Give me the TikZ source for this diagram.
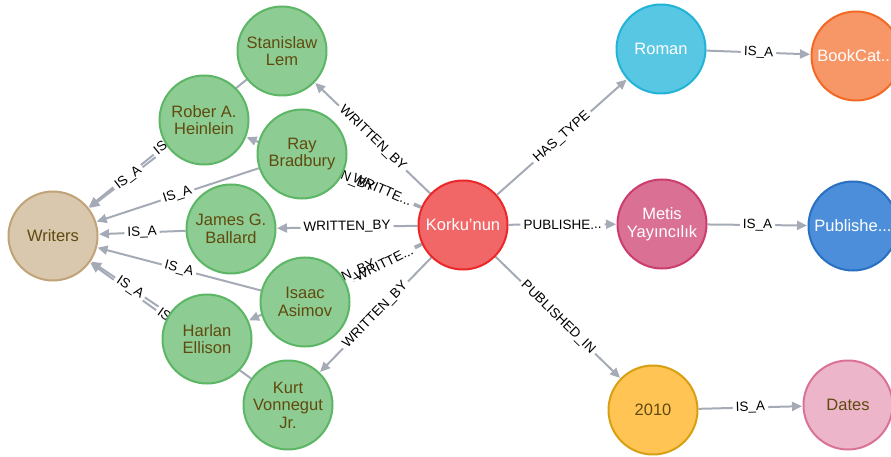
\documentclass[tikz,border=0pt]{standalone}
\usepackage{fontspec}
\setmainfont{Liberation Sans}
\usepackage{tikz}
\usetikzlibrary{arrows.meta}
\pgfdeclarelayer{bg}
\pgfsetlayers{bg,main}

\definecolor{edgegray}{HTML}{A5ABB6}
\definecolor{darktext}{HTML}{604A0E}
\definecolor{grnfill}{HTML}{8DCC93}
\definecolor{grndraw}{HTML}{5DB665}
\definecolor{tanfill}{HTML}{D9C8AE}
\definecolor{tandraw}{HTML}{C0A378}
\definecolor{redfill}{HTML}{F16667}
\definecolor{reddraw}{HTML}{EB2728}
\definecolor{cyanfill}{HTML}{57C7E3}
\definecolor{cyandraw}{HTML}{23B3D7}
\definecolor{orgfill}{HTML}{F79767}
\definecolor{orgdraw}{HTML}{F36924}
\definecolor{magfill}{HTML}{DA7194}
\definecolor{magdraw}{HTML}{CC3C6C}
\definecolor{bluefill}{HTML}{4C8EDA}
\definecolor{bluedraw}{HTML}{2870C2}
\definecolor{yelfill}{HTML}{FFC454}
\definecolor{yeldraw}{HTML}{D7A013}
\definecolor{pinkfill}{HTML}{ECB5C9}
\definecolor{pinkdraw}{HTML}{DA7298}

\tikzset{
  ent/.style={circle, minimum size=89, inner sep=0, line width=2,
    align=center, font=\fontsize{16.5}{17.5}\selectfont},
  writer/.style={ent, fill=grnfill, draw=grndraw, text=darktext},
  rel/.style={draw=edgegray, line width=2,
    -{Triangle[length=10pt,width=9pt]}, shorten >=0.5pt},
  lblfont/.style={font=\fontsize{13.5}{15}\selectfont},
  gapbox/.style={lblfont, fill=white, inner xsep=3, inner ysep=1,
    midway, sloped},
  lbl/.style={lblfont, text=black, inner xsep=3, inner ysep=1,
    midway, sloped}
}

\begin{document}
\begin{tikzpicture}[x=1pt, y=-1pt]
    \useasboundingbox (0,0) rectangle (891,457);
    % entities
    \node[ent, fill=tanfill, draw=tandraw, text=darktext] (writers) at (53,236) {Writers};
    \node[writer] (lem) at (282,51) {Stanislaw\\Lem};
    \node[writer] (heinlein) at (204,120) {Rober A.\\Heinlein};
    \node[writer] (bradbury) at (302,154) {Ray\\Bradbury};
    \node[writer] (ballard) at (231,229) {James G.\\Ballard};
    \node[writer] (asimov) at (305,302) {Isaac\\Asimov};
    \node[writer] (ellison) at (207,339) {Harlan\\Ellison};
    \node[writer] (vonnegut) at (288,405) {Kurt\\Vonnegut\\Jr.};
    \node[ent, fill=redfill, draw=reddraw, text=white] (korku) at (463,225) {Korku'nun};
    \node[ent, fill=cyanfill, draw=cyandraw, text=white] (roman) at (661,49) {Roman};
    \node[ent, fill=orgfill, draw=orgdraw, text=white] (bookcat) at (856,56) {BookCat...};
    \node[ent, fill=magfill, draw=magdraw, text=white] (metis) at (662,224) {Metis\\Yayıncılık};
    \node[ent, fill=bluefill, draw=bluedraw, text=white] (publisher) at (853,226) {Publishe...};
    \node[ent, fill=yelfill, draw=yeldraw, text=darktext] (year) at (653,410) {2010};
    \node[ent, fill=pinkfill, draw=pinkdraw, text=darktext] (dates) at (848,405) {Dates};

    % relationships: from/to/label
    \def\rels{korku/lem/WRITTEN\_BY, korku/heinlein/WRITTEN\_BY,
      korku/bradbury/WRITTE.{}.{}., korku/ballard/WRITTEN\_BY,
      korku/asimov/WRITTE.{}.{}., korku/ellison/WRITTEN\_BY,
      korku/vonnegut/WRITTEN\_BY,
      lem/writers/IS\_A, heinlein/writers/IS\_A, bradbury/writers/IS\_A,
      ballard/writers/IS\_A, asimov/writers/IS\_A, ellison/writers/IS\_A,
      vonnegut/writers/IS\_A,
      korku/roman/HAS\_TYPE, korku/metis/PUBLISHE.{}.{}., korku/year/PUBLISHED\_IN,
      roman/bookcat/IS\_A, metis/publisher/IS\_A, year/dates/IS\_A}
    \begin{pgfonlayer}{bg}
      \foreach \a/\b/\lab in \rels
        \draw[rel] (\a) -- (\b);
      \foreach \a/\b/\lab in \rels
        \path (\a) -- (\b) node[gapbox] {\phantom{\lab}};
      \foreach \a/\b/\lab in \rels
        \path (\a) -- (\b) node[lbl] {\lab};
    \end{pgfonlayer}
  \end{tikzpicture}
\end{document}
